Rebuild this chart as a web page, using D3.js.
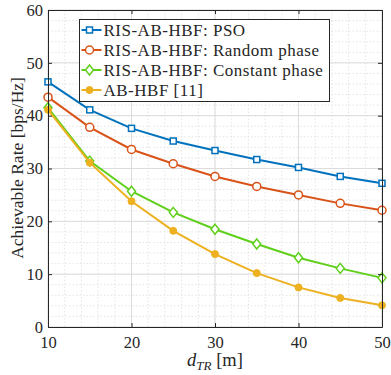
<!DOCTYPE html>
<html>
<head>
<meta charset="utf-8">
<script src="https://cdn.jsdelivr.net/npm/d3@7"></script>
<style>
  body { margin: 0; background: #fff; }
  text { font-family: "Liberation Serif", "Times New Roman", serif; fill: #262626; }
</style>
</head>
<body>
<div id="mainDiv"></div>
<script>
'use strict';

var distances = [10, 15, 20, 25, 30, 35, 40, 45, 50];
var ratePSO = [46.4, 41.1, 37.6, 35.2, 33.4, 31.7, 30.2, 28.5, 27.2];
var rateRandom = [43.5, 37.8, 33.6, 30.9, 28.5, 26.6, 25.0, 23.4, 22.1];
var rateConstant = [41.5, 31.4, 25.7, 21.7, 18.5, 15.7, 13.1, 11.1, 9.3];
var rateABHBF = [41.1, 31.1, 23.8, 18.2, 13.8, 10.2, 7.5, 5.5, 4.1];
var seriesNames = ['RIS-AB-HBF: PSO', 'RIS-AB-HBF: Random phase', 'RIS-AB-HBF: Constant phase', 'AB-HBF [11]'];
var xTicks = [10, 20, 30, 40, 50];
var yTicks = [0, 10, 20, 30, 40, 50, 60];

var myApp = {};

myApp.margins = {top: 10, bottom: 48, left: 48, right: 9};
myApp.cw = 391 - 48 - 9;
myApp.ch = 375 - 10 - 48;
myApp.svg = undefined;
myApp.plot = undefined;

myApp.series = [
    {name: seriesNames[0], values: ratePSO, color: '#0072BD', marker: 'square'},
    {name: seriesNames[1], values: rateRandom, color: '#D95319', marker: 'circle'},
    {name: seriesNames[2], values: rateConstant, color: '#5FCF1A', marker: 'diamond'},
    {name: seriesNames[3], values: rateABHBF, color: '#EDB120', marker: 'dot'}
];

myApp.x = d3.scaleLinear().domain([10, 50]).range([0, myApp.cw]);
myApp.y = d3.scaleLinear().domain([0, 60]).range([myApp.ch, 0]);

myApp.appendSvg = function(div)
{
    myApp.svg = d3.select(div).append('svg')
        .attr('width', 391)
        .attr('height', 375);
    myApp.plot = myApp.svg.append('g')
        .attr('transform', 'translate(' + myApp.margins.left + ',' + myApp.margins.top + ')');
}

myApp.drawGrid = function()
{
    var g = myApp.plot;
    var minorX = d3.range(10, 50.01, 2);
    var minorY = d3.range(0, 60.01, 2);

    g.append('g').selectAll('line').data(minorX).enter().append('line')
        .attr('x1', myApp.x).attr('x2', myApp.x)
        .attr('y1', 0).attr('y2', myApp.ch)
        .attr('stroke', '#e4e4e4').attr('stroke-dasharray', '1.5,2');
    g.append('g').selectAll('line').data(minorY).enter().append('line')
        .attr('y1', myApp.y).attr('y2', myApp.y)
        .attr('x1', 0).attr('x2', myApp.cw)
        .attr('stroke', '#e4e4e4').attr('stroke-dasharray', '1.5,2');

    g.append('g').selectAll('line').data(xTicks).enter().append('line')
        .attr('x1', myApp.x).attr('x2', myApp.x)
        .attr('y1', 0).attr('y2', myApp.ch)
        .attr('stroke', '#dcdcdc');
    g.append('g').selectAll('line').data(yTicks).enter().append('line')
        .attr('y1', myApp.y).attr('y2', myApp.y)
        .attr('x1', 0).attr('x2', myApp.cw)
        .attr('stroke', '#dcdcdc');
}

myApp.drawAxes = function()
{
    var g = myApp.plot;
    var xAxis = d3.axisBottom(myApp.x).tickValues(xTicks).tickSizeInner(-4).tickSizeOuter(0).tickPadding(9);
    var yAxis = d3.axisLeft(myApp.y).tickValues(yTicks).tickSizeInner(-4).tickSizeOuter(0).tickPadding(5);
    var xTop = d3.axisTop(myApp.x).tickValues(xTicks).tickSizeInner(-4).tickSizeOuter(0).tickFormat('');
    var yRight = d3.axisRight(myApp.y).tickValues(yTicks).tickSizeInner(-4).tickSizeOuter(0).tickFormat('');

    var ax = [
        g.append('g').attr('transform', 'translate(0,' + myApp.ch + ')').call(xAxis),
        g.append('g').call(yAxis),
        g.append('g').call(xTop),
        g.append('g').attr('transform', 'translate(' + myApp.cw + ',0)').call(yRight)
    ];
    ax.forEach(function(a) {
        a.selectAll('path').attr('stroke', '#262626').attr('stroke-width', 1);
        a.selectAll('line').attr('stroke', '#262626');
        a.selectAll('text').style('font-family', '"Liberation Serif", serif').style('font-size', '16.5px').attr('fill', '#262626');
    });

    var xl = myApp.svg.append('text')
        .attr('x', 215)
        .attr('y', 366)
        .attr('text-anchor', 'middle')
        .style('font-size', '18.5px');
    xl.append('tspan').style('font-style', 'italic').text('d');
    xl.append('tspan').style('font-style', 'italic').style('font-size', '13px').attr('dy', 4).text('TR');
    xl.append('tspan').attr('dy', -4).text(' [m]');

    myApp.svg.append('text')
        .attr('transform', 'translate(23,168) rotate(-90)')
        .attr('text-anchor', 'middle')
        .style('font-size', '17.5px')
        .text('Achievable Rate [bps/Hz]');
}

myApp.drawMarker = function(sel, s)
{
    if (s.marker === 'square') {
        sel.append('rect').attr('x', -3).attr('y', -3).attr('width', 6).attr('height', 6)
            .attr('fill', '#fff').attr('stroke', s.color).attr('stroke-width', 1.5);
    } else if (s.marker === 'circle') {
        sel.append('circle').attr('r', 4)
            .attr('fill', '#fff').attr('stroke', s.color).attr('stroke-width', 1.5);
    } else if (s.marker === 'diamond') {
        sel.append('path').attr('d', 'M0,-5L4,0L0,5L-4,0Z')
            .attr('fill', '#fff').attr('stroke', s.color).attr('stroke-width', 1.5);
    } else {
        sel.append('circle').attr('r', 3.5)
            .attr('fill', s.color).attr('stroke', s.color).attr('stroke-width', 1);
    }
}

myApp.drawSeries = function()
{
    var line = d3.line()
        .x(function(d, i) { return myApp.x(distances[i]); })
        .y(function(d) { return myApp.y(d); });

    myApp.series.forEach(function(s) {
        var g = myApp.plot.append('g');
        g.append('path')
            .datum(s.values)
            .attr('d', line)
            .attr('fill', 'none')
            .attr('stroke', s.color)
            .attr('stroke-width', 2);
        g.selectAll('g.mk').data(s.values).enter().append('g')
            .attr('class', 'mk')
            .attr('transform', function(d, i) {
                return 'translate(' + myApp.x(distances[i]) + ',' + myApp.y(d) + ')';
            })
            .each(function() { myApp.drawMarker(d3.select(this), s); });
    });
}

myApp.drawLegend = function()
{
    var lg = myApp.svg.append('g').attr('transform', 'translate(79.5,19.5)');
    lg.append('rect')
        .attr('width', 250).attr('height', 82)
        .attr('fill', '#fff').attr('stroke', '#262626').attr('stroke-width', 1);
    myApp.series.forEach(function(s, i) {
        var row = lg.append('g').attr('transform', 'translate(0,' + (10.5 + i * 20) + ')');
        row.append('line').attr('x1', 2).attr('x2', 22).attr('y1', 0).attr('y2', 0)
            .attr('stroke', s.color).attr('stroke-width', 2);
        var m = row.append('g').attr('transform', 'translate(10,0)');
        myApp.drawMarker(m, s);
        row.append('text').attr('x', 24).attr('y', 5.5)
            .style('font-size', '17px')
            .style('letter-spacing', '0.5px')
            .text(s.name);
    });
}

myApp.run = function()
{
    myApp.appendSvg('#mainDiv');
    myApp.drawGrid();
    myApp.drawSeries();
    myApp.drawAxes();
    myApp.drawLegend();
}

window.onload = myApp.run;
</script>
</body>
</html>
